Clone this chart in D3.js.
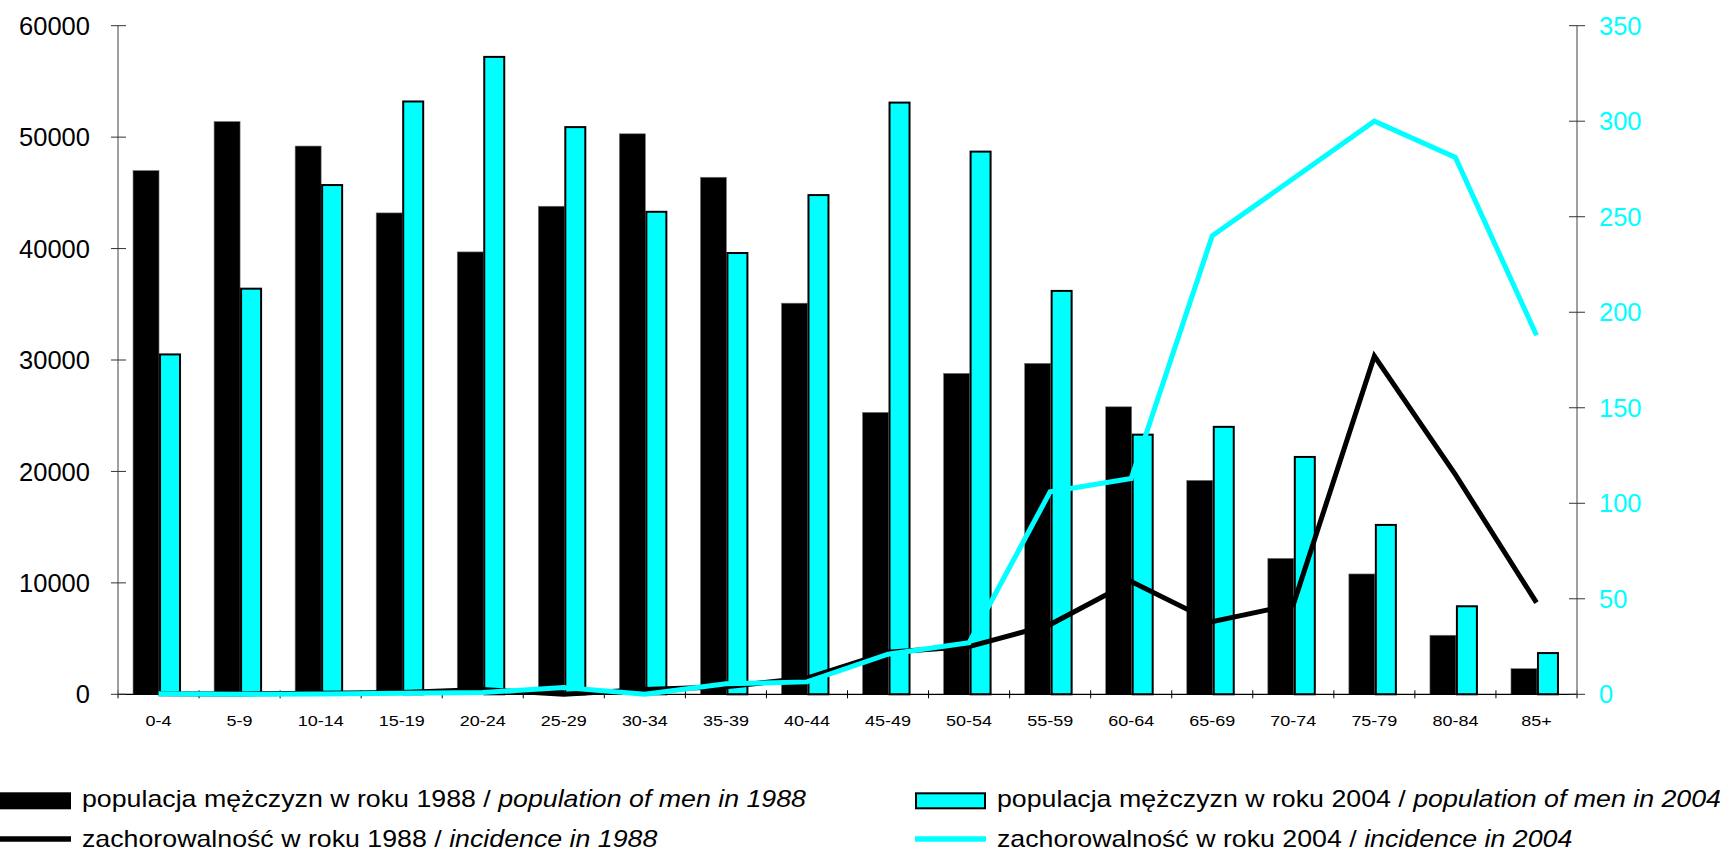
<!DOCTYPE html>
<html>
<head>
<meta charset="utf-8">
<script src="https://cdn.jsdelivr.net/npm/d3@7"></script>
<style>
  html, body { margin: 0; padding: 0; background: #fff; }
  svg { display: block; font-family: Arial, "Liberation Sans", sans-serif; }
</style>
</head>
<body>
<svg id="chart" width="1727" height="860"></svg>
<script>
const categories = ["0-4","5-9","10-14","15-19","20-24","25-29","30-34","35-39","40-44","45-49","50-54","55-59","60-64","65-69","70-74","75-79","80-84","85+"];
const pop1988 = [47000, 51400, 49200, 43200, 39700, 43800, 50300, 46400, 35100, 25300, 28800, 29700, 25800, 19200, 12200, 10800, 5300, 2300];
const pop2004 = [30500, 36400, 45700, 53200, 57200, 50900, 43300, 39600, 44800, 53100, 48700, 36200, 23300, 24000, 21300, 15200, 7900, 3700];
const inc1988 = [0.3, 0.2, 0.5, 1, 2.5, 0, 2.5, 4, 8.5, 22, 25, 36.5, 59, 38, 47, 177, 115, 48];
const inc2004 = [0.3, 0, 0.2, 0.5, 1, 3.5, 0, 5.5, 6.5, 21, 27, 106, 113, 240, 270, 300, 281, 188];
const leftTicks = [0, 10000, 20000, 30000, 40000, 50000, 60000];
const rightTicks = [0, 50, 100, 150, 200, 250, 300, 350];
const legendLabels = [
  ["populacja mężczyzn w roku 1988 / ", "population of men in 1988"],
  ["populacja mężczyzn w roku 2004 / ", "population of men in 2004"],
  ["zachorowalność w roku 1988 / ", "incidence in 1988"],
  ["zachorowalność w roku 2004 / ", "incidence in 2004"]
];

const CYAN = "#00FFFF";
const svg = d3.select("#chart");
const L = 118, R = 1577, T = 25.7, B = 694.3;

const x = d3.scaleBand().domain(categories).range([L, R]).padding(0);
const yL = d3.scaleLinear().domain([0, 60000]).range([B, T]);
const yR = d3.scaleLinear().domain([0, 350]).range([B, T]);
const cx = c => x(c) + x.bandwidth() / 2;

// bars 1988 (black)
svg.append("g").selectAll("rect").data(categories).join("rect")
  .attr("x", c => cx(c) - 25.5)
  .attr("width", 26)
  .attr("y", (c, i) => yL(pop1988[i]))
  .attr("height", (c, i) => B - yL(pop1988[i]))
  .attr("fill", "#000")
  .attr("stroke", "#777").attr("stroke-width", 0.6);

// bars 2004 (cyan, black outline)
svg.append("g").selectAll("rect").data(categories).join("rect")
  .attr("x", c => cx(c) + 1.5)
  .attr("width", 20)
  .attr("y", (c, i) => yL(pop2004[i]))
  .attr("height", (c, i) => B - yL(pop2004[i]))
  .attr("fill", CYAN)
  .attr("stroke", "#000").attr("stroke-width", 2);

// x axis
const xAxis = svg.append("g");
xAxis.append("line").attr("x1", L).attr("x2", R).attr("y1", B).attr("y2", B)
  .attr("stroke", "#000").attr("stroke-width", 1.3);
const bounds = categories.map(c => x(c)).concat([R]);
xAxis.selectAll("line.tk").data(bounds).join("line").attr("class", "tk")
  .attr("x1", d => d).attr("x2", d => d).attr("y1", B - 4).attr("y2", B + 4)
  .attr("stroke", "#000").attr("stroke-width", 1);
xAxis.selectAll("text").data(categories).join("text")
  .attr("transform", c => `translate(${cx(c)},725.7) scale(1.2,1)`)
  .attr("text-anchor", "middle")
  .attr("font-size", 15)
  .attr("fill", "#000")
  .text(c => c);

// left axis
const la = svg.append("g");
la.append("line").attr("x1", L).attr("x2", L).attr("y1", T).attr("y2", B)
  .attr("stroke", "#808080").attr("stroke-width", 1.5);
la.selectAll("line.tk").data(leftTicks).join("line").attr("class", "tk")
  .attr("x1", L - 7).attr("x2", L + 8).attr("y1", d => yL(d)).attr("y2", d => yL(d))
  .attr("stroke", "#333").attr("stroke-width", 1);
la.selectAll("text").data(leftTicks).join("text")
  .attr("x", 90).attr("y", d => yL(d)).attr("dy", "0.36em")
  .attr("text-anchor", "end").attr("font-size", 25.5).attr("fill", "#000")
  .text(d => d);

// right axis
const ra = svg.append("g");
ra.append("line").attr("x1", R).attr("x2", R).attr("y1", T).attr("y2", B)
  .attr("stroke", "#808080").attr("stroke-width", 1.5);
ra.selectAll("line.tk").data(rightTicks).join("line").attr("class", "tk")
  .attr("x1", R - 8).attr("x2", R + 8).attr("y1", d => yR(d)).attr("y2", d => yR(d))
  .attr("stroke", "#333").attr("stroke-width", 1);
ra.selectAll("text").data(rightTicks).join("text")
  .attr("x", 1599).attr("y", d => yR(d)).attr("dy", "0.36em")
  .attr("text-anchor", "start").attr("font-size", 25.5).attr("fill", CYAN)
  .text(d => d);

// lines
const line = d3.line().x(d => cx(d.c)).y(d => yR(d.v));
svg.append("path")
  .datum(categories.map((c, i) => ({c, v: inc1988[i]})))
  .attr("d", line).attr("fill", "none").attr("stroke", "#000")
  .attr("stroke-width", 5).attr("stroke-linejoin", "miter");
svg.append("path")
  .datum(categories.map((c, i) => ({c, v: inc2004[i]})))
  .attr("d", line).attr("fill", "none").attr("stroke", CYAN)
  .attr("stroke-width", 5).attr("stroke-linejoin", "miter");

// legend
const lg = svg.append("g").attr("font-size", 23);
const pos = [
  {sx: 0, tx: 82, y: 807},
  {sx: 915, tx: 997, y: 807},
  {sx: 0, tx: 82, y: 847},
  {sx: 915, tx: 997, y: 847}
];
// swatches
lg.append("rect").attr("x", pos[0].sx).attr("y", 792.3).attr("width", 71).attr("height", 17).attr("fill", "#000");
lg.append("rect").attr("x", pos[1].sx + 1).attr("y", 793.3).attr("width", 69).attr("height", 15)
  .attr("fill", CYAN).attr("stroke", "#000").attr("stroke-width", 2);
lg.append("line").attr("x1", pos[2].sx).attr("x2", pos[2].sx + 71).attr("y1", 839).attr("y2", 839)
  .attr("stroke", "#000").attr("stroke-width", 5.5);
lg.append("line").attr("x1", pos[3].sx).attr("x2", pos[3].sx + 71).attr("y1", 839).attr("y2", 839)
  .attr("stroke", CYAN).attr("stroke-width", 5.5);
legendLabels.forEach((lab, i) => {
  const t = lg.append("text")
    .attr("transform", `translate(${pos[i].tx},${pos[i].y}) scale(1.163,1)`)
    .attr("fill", "#000");
  t.append("tspan").text(lab[0]);
  t.append("tspan").attr("font-style", "italic").text(lab[1]);
});
</script>
</body>
</html>
